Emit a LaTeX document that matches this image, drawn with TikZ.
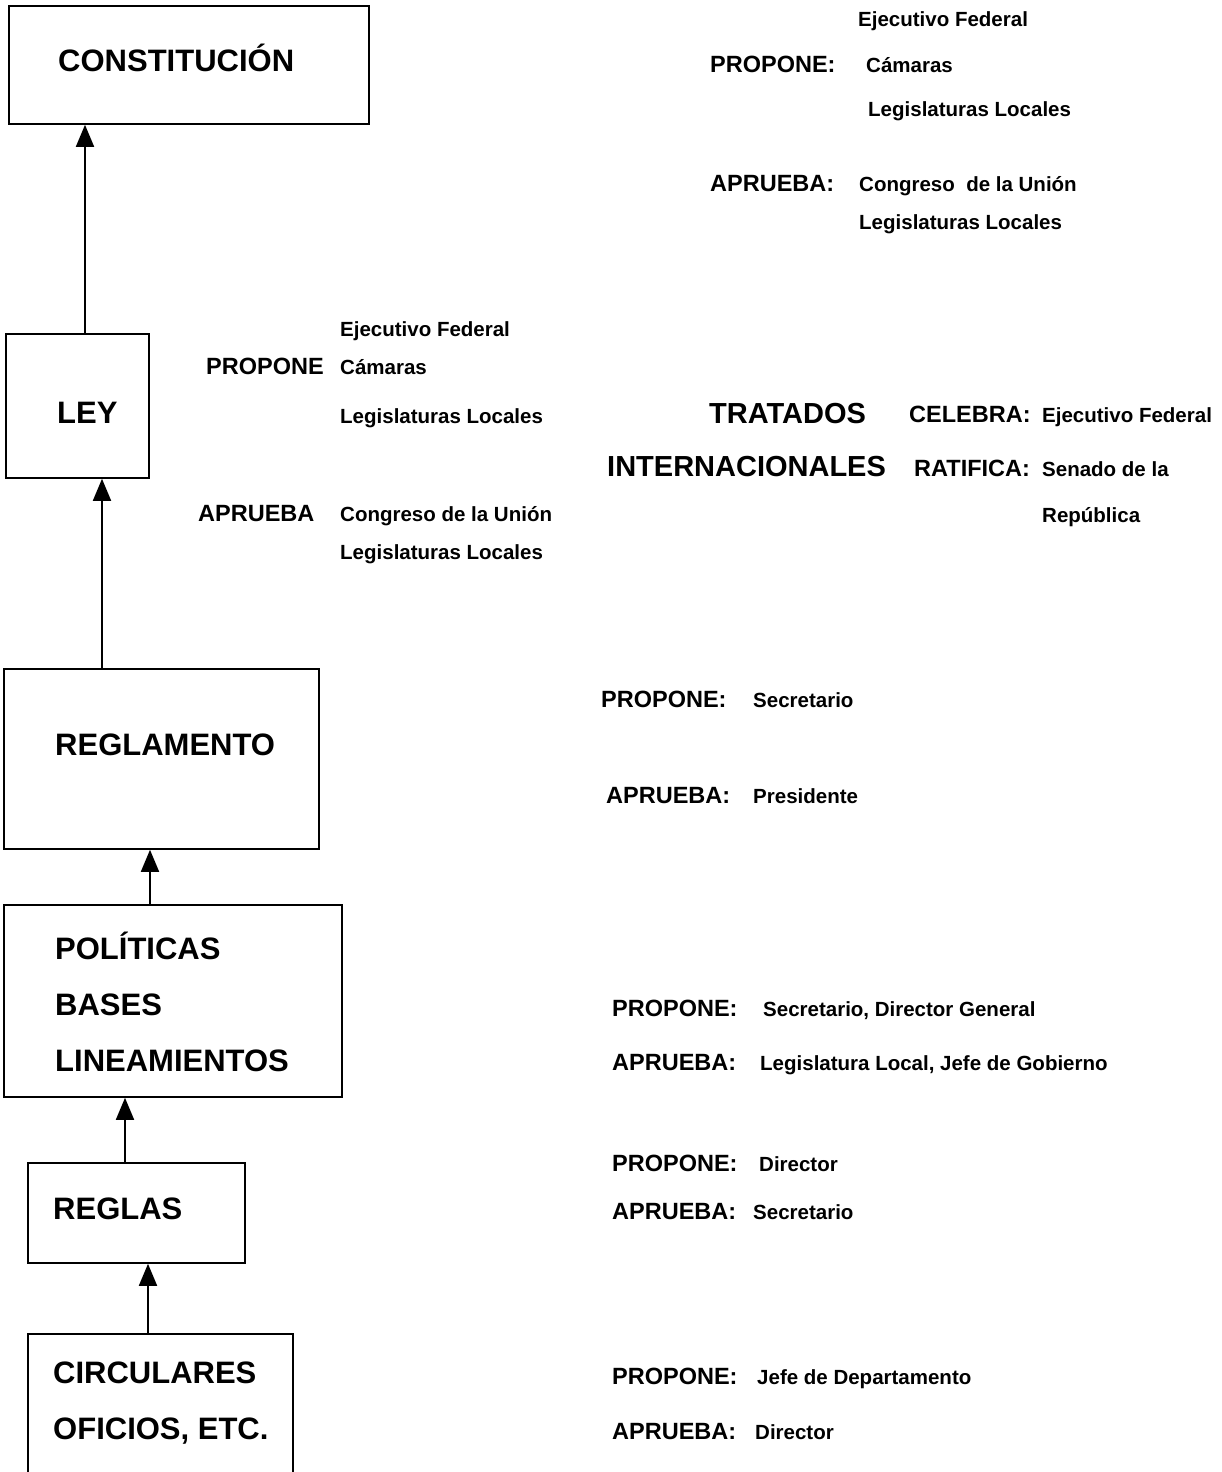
\documentclass[tikz,border=0pt]{standalone}
\usepackage{fontspec}
\setmainfont{Liberation Sans}
\usetikzlibrary{arrows.meta}
\tikzset{
  box/.style={draw, line width=1.8pt, rectangle, anchor=north west, inner sep=0pt},
  big/.style={anchor=base west, inner sep=0pt, font=\bfseries\fontsize{31}{36}\selectfont},
  tra/.style={anchor=base west, inner sep=0pt, font=\bfseries\fontsize{29}{34}\selectfont},
  lab/.style={anchor=base west, inner sep=0pt, font=\bfseries\fontsize{23.5}{28}\selectfont},
  val/.style={anchor=base west, inner sep=0pt, font=\bfseries\fontsize{20.5}{24}\selectfont},
  arr/.style={line width=1.8pt, -{Triangle[length=22pt,width=18pt]}},
}
\begin{document}
\begin{tikzpicture}[x=1pt,y=-1pt]
\useasboundingbox (0,0) rectangle (1222,1472);
% boxes
\node[box, minimum width=360pt, minimum height=118pt] (con) at (8,5) {};
\node[box, minimum width=143pt, minimum height=144pt] (ley) at (5,333) {};
\node[box, minimum width=315pt, minimum height=180pt] (reg) at (3,668) {};
\node[box, minimum width=338pt, minimum height=192pt] (pol) at (3,904) {};
\node[box, minimum width=217pt, minimum height=100pt] (rgl) at (27,1162) {};
\node[box, minimum width=265pt, minimum height=150pt] (cir) at (27,1333) {};
% box texts
\node[big] (tcon) at (58,71) {CONSTITUCIÓN};
\node[big] (tley) at (57,423) {LEY};
\node[big] (treg) at (55,755) {REGLAMENTO};
\node[big] (tpol1) at (55,959) {POLÍTICAS};
\node[big] (tpol2) at (55,1015) {BASES};
\node[big] (tpol3) at (55,1071) {LINEAMIENTOS};
\node[big] (trgl) at (53,1219) {REGLAS};
\node[big] (tcir1) at (53,1383) {CIRCULARES};
\node[big] (tcir2) at (53,1439) {OFICIOS, ETC.};
% arrows
\draw[arr] ([xshift=80pt]ley.north west) -- ([xshift=80pt]ley.north west |- con.south);
\draw[arr] ([xshift=99pt]reg.north west) -- ([xshift=99pt]reg.north west |- ley.south);
\draw[arr] ([xshift=147pt]pol.north west) -- ([xshift=147pt]pol.north west |- reg.south);
\draw[arr] ([xshift=98pt]rgl.north west) -- ([xshift=98pt]rgl.north west |- pol.south);
\draw[arr] ([xshift=121pt]cir.north west) -- ([xshift=121pt]cir.north west |- rgl.south);
% top group (Constitución)
\node[val] (c1) at (858,27) {Ejecutivo Federal};
\node[lab] (c2) at (710,72) {PROPONE:};
\node[val] (c3) at (866,72) {Cámaras};
\node[val] (c4) at (868,116) {Legislaturas Locales};
\node[lab] (c5) at (710,191) {APRUEBA:};
\node[val] (c6) at (859,191) {Congreso\ \ de la Unión};
\node[val] (c7) at (859,229) {Legislaturas Locales};
% ley group
\node[val] (l1) at (340,336) {Ejecutivo Federal};
\node[lab] (l2) at (206,374) {PROPONE};
\node[val] (l3) at (340,374) {Cámaras};
\node[val] (l4) at (340,423) {Legislaturas Locales};
\node[lab] (l5) at (198,521) {APRUEBA};
\node[val] (l6) at (340,521) {Congreso de la Unión};
\node[val] (l7) at (340,559) {Legislaturas Locales};
% tratados
\node[tra] (t1) at (709,423) {TRATADOS};
\node[tra] (t2) at (607,476) {INTERNACIONALES};
\node[lab] (t3) at (909,422) {CELEBRA:};
\node[val] (t4) at (1042,422) {Ejecutivo Federal};
\node[lab] (t5) at (914,476) {RATIFICA:};
\node[val] (t6) at (1042,476) {Senado de la};
\node[val] (t7) at (1042,522) {República};
% reglamento group
\node[lab] (r1) at (601,707) {PROPONE:};
\node[val] (r2) at (753,707) {Secretario};
\node[lab] (r3) at (606,803) {APRUEBA:};
\node[val] (r4) at (753,803) {Presidente};
% politicas group
\node[lab] (p1) at (612,1016) {PROPONE:};
\node[val] (p2) at (763,1016) {Secretario, Director General};
\node[lab] (p3) at (612,1070) {APRUEBA:};
\node[val] (p4) at (760,1070) {Legislatura Local, Jefe de Gobierno};
% reglas group
\node[lab] (g1) at (612,1171) {PROPONE:};
\node[val] (g2) at (759,1171) {Director};
\node[lab] (g3) at (612,1219) {APRUEBA:};
\node[val] (g4) at (753,1219) {Secretario};
% circulares group
\node[lab] (k1) at (612,1384) {PROPONE:};
\node[val] (k2) at (757,1384) {Jefe de Departamento};
\node[lab] (k3) at (612,1439) {APRUEBA:};
\node[val] (k4) at (755,1439) {Director};
\end{tikzpicture}
\end{document}
